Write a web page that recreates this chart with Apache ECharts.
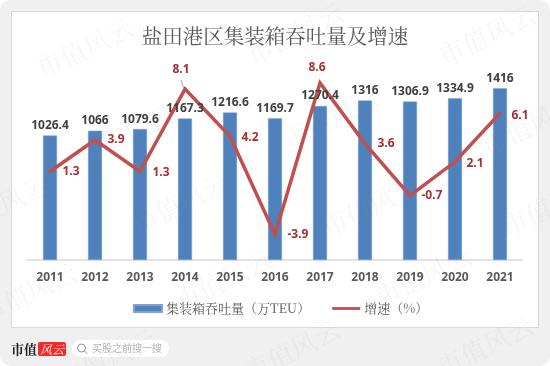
<!DOCTYPE html>
<html>
<head>
<meta charset="utf-8">
<style>
  html, body { margin: 0; padding: 0; background: #fff; }
  #main { width: 550px; height: 366px; }
</style>
<script src="https://cdn.jsdelivr.net/npm/echarts@6/dist/echarts.min.js"></script>
</head>
<body>
<div id="main"></div>
<script>
var years = ['2011', '2012', '2013', '2014', '2015', '2016', '2017', '2018', '2019', '2020', '2021'];
var throughput = [1026.4, 1066, 1079.6, 1167.3, 1216.6, 1169.7, 1270.4, 1316, 1306.9, 1334.9, 1416];
var growth = [1.3, 3.9, 1.3, 8.1, 4.2, -3.9, 8.6, 3.6, -0.7, 2.1, 6.1];
// label offset from each line point
var growthLabelOffset = [[21, 0], [21, 0], [21, 1], [-4, -19], [20, 1], [23, 0], [-3, -15], [21, 0], [22, 0], [20, 2], [20, 2]];

var serif = '"Noto Serif CJK SC", "Noto Sans CJK SC", serif';
var sans = '"Noto Sans", "Open Sans", "Noto Sans CJK SC", sans-serif';

// watermark text, repeated over the card
var marks = [[85, 48], [295, 33], [487, 35], [125, 135], [330, 118], [530, 125], [0, 205], [180, 203], [370, 206], [550, 206], [28, 293], [223, 280], [423, 276], [107, 360], [292, 350], [485, 346]];
var watermarks = marks.map(function (p) {
  return {
    type: 'text', x: p[0], y: p[1], rotation: 0.45, silent: true, z: 100,
    style: { text: '市值风云', fill: 'rgba(150,150,150,0.09)', font: '26px ' + serif, align: 'center', verticalAlign: 'middle' }
  };
});

var chart = echarts.init(document.getElementById('main'));
chart.setOption({
  animation: false,
  textStyle: { fontFamily: sans },
  title: {
    text: '盐田港区集装箱吞吐量及增速',
    left: 'center', top: 21,
    textStyle: { fontFamily: serif, fontSize: 20.5, fontWeight: 'normal', color: '#595959' }
  },
  grid: { left: 27.5, right: 27.5, top: 66, height: 194 },
  legend: {
    top: 297, left: 128, itemGap: 22, itemWidth: 28, itemHeight: 7,
    textStyle: { fontFamily: serif, fontSize: 13, color: '#595959', padding: [0, 0, 0, -1] },
    data: [
      { name: '集装箱吞吐量（万TEU）', icon: 'rect' },
      { name: '增速（%）', icon: 'path://M0,0H100V10H0Z', itemStyle: { color: '#c0504d' } }
    ]
  },
  xAxis: {
    type: 'category', data: years,
    axisTick: { show: false },
    axisLine: { lineStyle: { color: '#d9d9d9', width: 1.5 } },
    axisLabel: { color: '#595959', fontSize: 12, fontWeight: 'bold', margin: 12 }
  },
  yAxis: [
    { type: 'value', min: 0, max: 1600, show: false, splitLine: { show: false } },
    { type: 'value', min: -6, max: 10, show: false, splitLine: { show: false } }
  ],
  series: [
    {
      name: '集装箱吞吐量（万TEU）', type: 'bar', data: throughput, barWidth: 14, barGap: '-100%', z: 2,
      itemStyle: { color: '#4f81bd', borderColor: '#7ba3d4', borderWidth: 0.5 }
    },
    {
      name: '增速（%）', type: 'line', yAxisIndex: 1, z: 3, data: growth.map(function (v, i) {
        return { value: v, label: { offset: growthLabelOffset[i] } };
      }),
      symbol: 'circle', symbolSize: 1, showSymbol: true, showAllSymbol: true,
      itemStyle: { color: '#c0504d' },
      lineStyle: { color: '#c0504d', width: 3.5, cap: 'round', join: 'miter' },
      label: { show: true, position: 'inside', color: '#a5302d', fontSize: 12, fontWeight: 'bold' }
    },
    // clear bars on top, so the value labels sit over the line
    {
      name: 'barLabels', type: 'bar', data: throughput, barWidth: 14, z: 4,
      itemStyle: { color: 'transparent' },
      label: { show: true, position: 'top', distance: 4, color: '#404040', fontSize: 12, fontWeight: 'bold' }
    }
  ],
  graphic: [
    // card behind the chart
    { type: 'rect', z: -20, silent: true, shape: { x: 0, y: 0, width: 550, height: 366, r: 10 }, style: { fill: '#f0f0f0' } },
    { type: 'rect', z: -19, silent: true, shape: { x: 11.5, y: 11.5, width: 527, height: 316 }, style: { fill: '#fff', stroke: '#d9d9d9', lineWidth: 1 } },
    // footer brand and search pill
    { type: 'text', x: 11, y: 349, z: 20, style: { text: '市值', fill: '#222', font: 'bold 13px ' + serif, verticalAlign: 'middle' } },
    { type: 'rect', z: 20, shape: { x: 38, y: 342, width: 28, height: 14, r: 2 }, style: { fill: '#f22a2a' } },
    { type: 'text', x: 52, y: 349, z: 21, style: { text: '风云', fill: '#fff', font: 'italic 12px ' + serif, align: 'center', verticalAlign: 'middle' } },
    { type: 'rect', z: 20, shape: { x: 72, y: 340, width: 97, height: 17, r: 8.5 }, style: { fill: '#fff' } },
    { type: 'circle', z: 21, shape: { cx: 81.5, cy: 348, r: 4 }, style: { fill: 'none', stroke: '#8c8c8c', lineWidth: 1 } },
    { type: 'line', z: 21, shape: { x1: 84.5, y1: 351, x2: 87, y2: 353.5 }, style: { stroke: '#8c8c8c', lineWidth: 1 } },
    { type: 'text', x: 92, y: 349, z: 21, style: { text: '买股之前搜一搜', fill: '#b5b5b5', font: '10px ' + sans, verticalAlign: 'middle' } },
    // leader line of the 8.1 label
    { type: 'line', z: 6, shape: { x1: 181, y1: 80, x2: 184, y2: 89 }, style: { stroke: '#a6a6a6', lineWidth: 1 } }
  ].concat(watermarks)
});
</script>
</body>
</html>
